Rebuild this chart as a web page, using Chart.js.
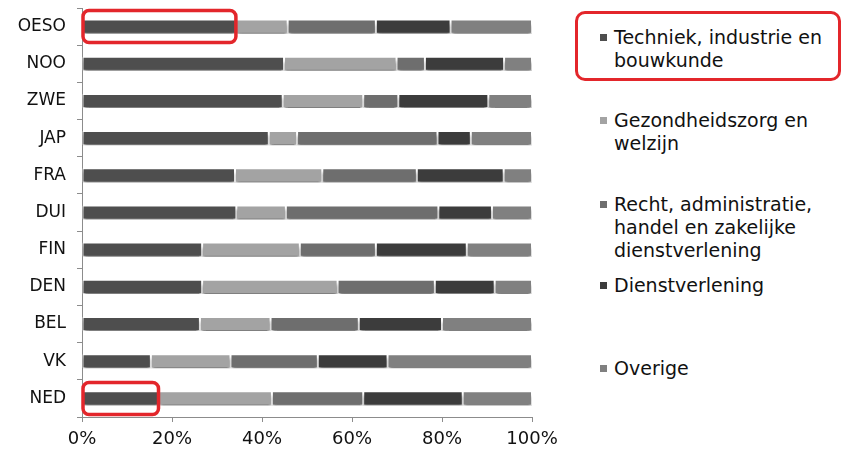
<!DOCTYPE html>
<html>
<head>
<meta charset="utf-8">
<script src="https://cdn.jsdelivr.net/npm/chart.js@4"></script>
<style>
  body { margin: 0; background: #fff; font-family: "DejaVu Sans", Verdana, sans-serif; }
  #wrap { position: relative; width: 843px; height: 452px; }
  #chart { position: absolute; left: 0; top: 0; }
  .item { position: absolute; left: 600px; font-size: 19px; line-height: 23px; color: #111; }
  .item i { position: absolute; left: 0; top: 8px; width: 7px; height: 7px; }
  .item span { display: block; margin-left: 14px; }
  #mark { position: absolute; left: 575px; top: 11px; width: 260px; height: 64px;
          border: 3.5px solid #e3262b; border-radius: 10px; }
</style>
</head>
<body>
<div id="wrap">
  <canvas id="chart" width="570" height="452"></canvas>
  <div id="legend"></div>
  <div id="mark"></div>
</div>
<script>
var categories = ['OESO', 'NOO', 'ZWE', 'JAP', 'FRA', 'DUI', 'FIN', 'DEN', 'BEL', 'VK', 'NED'];
var techniek = [34.2, 44.9, 44.6, 41.5, 34, 34.3, 26.7, 26.7, 26.2, 15.3, 17];
var gezondheid = [11.5, 25, 17.9, 6.3, 19.4, 11, 21.7, 30.1, 15.7, 17.7, 25.2];
var recht = [19.6, 6.3, 7.8, 31.2, 21, 33.9, 16.9, 21.6, 19.6, 19.4, 20.3];
var dienst = [16.6, 17.6, 20, 7.4, 19.3, 11.9, 20.2, 13.3, 18.5, 15.5, 22.1];
var overige = [18.1, 6.2, 9.7, 13.6, 6.3, 8.9, 14.5, 8.3, 20, 32.1, 15.4];
var xTicks = [0, 20, 40, 60, 80, 100];
var highlighted = ['OESO', 'NED'];

var series = [
    {label: ['Techniek, industrie en', 'bouwkunde'], data: techniek, color: '#4e4e4e', top: 26},
    {label: ['Gezondheidszorg en', 'welzijn'], data: gezondheid, color: '#a3a3a3', top: 109},
    {label: ['Recht, administratie,', 'handel en zakelijke', 'dienstverlening'], data: recht, color: '#6e6e6e', top: 193},
    {label: ['Dienstverlening'], data: dienst, color: '#3c3c3c', top: 274},
    {label: ['Overige'], data: overige, color: '#808080', top: 357}
];

// html legend, the chart.js one can't wrap text
var legend = document.getElementById('legend');
series.forEach(function(s){
    var d = document.createElement('div');
    d.className = 'item';
    d.style.top = s.top + 'px';
    d.innerHTML = '<i style="background:' + s.color + '"></i><span>' + s.label.join('<br>') + '</span>';
    legend.appendChild(d);
});

var barShadow = {
    id: 'barShadow',
    beforeDatasetsDraw: function(chart){
        var ctx = chart.ctx;
        ctx.save();
        ctx.shadowColor = 'rgba(0,0,0,0.5)';
        ctx.shadowBlur = 3;
        ctx.shadowOffsetY = 4;
    },
    afterDatasetsDraw: function(chart){
        chart.ctx.restore();
    }
};

var redBoxes = {
    id: 'redBoxes',
    afterDraw: function(chart){
        var ctx = chart.ctx;
        var x0 = chart.scales.x.getPixelForValue(0);
        ctx.save();
        ctx.strokeStyle = '#e3262b';
        ctx.lineWidth = 3.5;
        highlighted.forEach(function(name){
            var bar = chart.getDatasetMeta(0).data[categories.indexOf(name)];
            ctx.beginPath();
            ctx.roundRect(x0 + 1, bar.y - 16, bar.x - x0 - 1, 32, 6);
            ctx.stroke();
        });
        ctx.restore();
    }
};

var ctx = document.getElementById('chart').getContext('2d');
var chart = new Chart(ctx, {
    type: 'bar',
    data: {
        labels: categories,
        datasets: series.map(function(s){
            return {
                label: s.label.join(' '),
                data: s.data,
                backgroundColor: s.color,
                borderColor: '#ffffff',
                borderWidth: 1,
                borderSkipped: false,
                barPercentage: 0.38,
                categoryPercentage: 1
            };
        })
    },
    options: {
        indexAxis: 'y',
        responsive: false,
        animation: false,
        layout: { padding: { top: 8, right: 38, left: 0, bottom: 0 } },
        plugins: {
            legend: { display: false },
            tooltip: { enabled: false }
        },
        scales: {
            x: {
                stacked: true,
                min: 0,
                max: 100,
                afterFit: function(scale){ scale.height = 35; },
                afterBuildTicks: function(scale){
                    scale.ticks = xTicks.map(function(v){ return {value: v}; });
                },
                ticks: {
                    callback: function(v){ return v + '%'; },
                    font: { family: 'DejaVu Sans', size: 18 },
                    color: '#111',
                    padding: 7,
                    maxRotation: 0
                },
                grid: { drawOnChartArea: false, tickLength: 5, color: '#8c8c8c' },
                border: { color: '#8c8c8c' }
            },
            y: {
                stacked: true,
                afterFit: function(scale){
                    scale.width = 82;
                    scale.paddingTop = 0;
                    scale.paddingBottom = 0;
                },
                ticks: {
                    font: { family: 'DejaVu Sans', size: 17 },
                    color: '#111',
                    padding: 11
                },
                grid: { drawOnChartArea: false, offset: true, tickLength: 5, color: '#8c8c8c' },
                border: { color: '#8c8c8c' }
            }
        }
    },
    plugins: [barShadow, redBoxes]
});
</script>
</body>
</html>
